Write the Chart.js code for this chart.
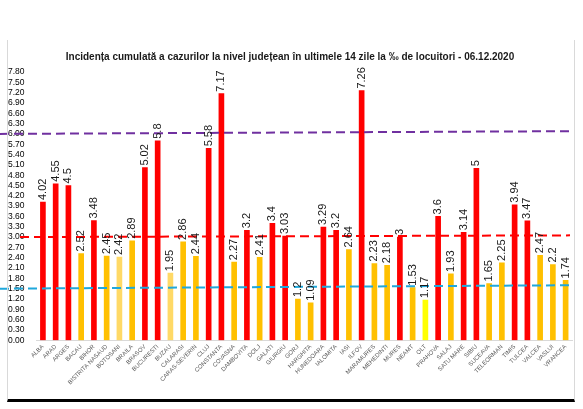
<!DOCTYPE html>
<html>
<head>
<meta charset="utf-8">
<style>
  html, body { margin: 0; padding: 0; background: #fff; }
  #wrap { position: relative; width: 583px; height: 409px; }
  #frame {
    position: absolute; left: 7px; top: 40px; width: 566px; height: 359px;
    border-left: 1px solid #d9d9d9; border-right: 1px solid #d9d9d9;
    border-bottom: 3px solid #000; pointer-events: none;
  }
  canvas { position: absolute; left: 0; top: 0; }
</style>
</head>
<body>
<div id="wrap">
  <canvas id="grafic" width="583" height="409"></canvas>
  <div id="frame"></div>
</div>
<script src="https://cdn.jsdelivr.net/npm/chart.js"></script>
<script>
// judete + incidenta (‰) la 06.12.2020
const judete = ['ALBA','ARAD','ARGES','BACAU','BIHOR','BISTRITA NASAUD','BOTOSANI','BRAILA','BRASOV','BUCURESTI',
  'BUZAU','CALARASI','CARAS-SEVERIN','CLUJ','CONSTANTA','COVASNA','DAMBOVITA','DOLJ','GALATI','GIURGIU',
  'GORJ','HARGHITA','HUNEDOARA','IALOMITA','IASI','ILFOV','MARAMURES','MEHEDINTI','MURES','NEAMT',
  'OLT','PRAHOVA','SALAJ','SATU MARE','SIBIU','SUCEAVA','TELEORMAN','TIMIS','TULCEA','VALCEA','VASLUI','VRANCEA'];
const incidenta = [4.02,4.55,4.5,2.52,3.48,2.45,2.42,2.89,5.02,5.8,
  1.95,2.86,2.44,5.58,7.17,2.27,3.2,2.41,3.4,3.03,
  1.2,1.09,3.29,3.2,2.64,7.26,2.23,2.18,3,1.53,
  1.17,3.6,1.93,3.14,5,1.65,2.25,3.94,3.47,2.47,2.2,1.74];
// nivel culoare: R rosu, O portocaliu, P galben pal, G galben
const nivel = ['R','R','R','O','R','O','P','O','R','R',
  'P','O','O','R','R','O','R','O','R','R',
  'O','O','R','R','O','R','O','O','R','O',
  'G','R','O','R','R','O','O','R','R','O','O','O'];
// praguri (liniile punctate), capat stang / capat drept
const praguri = [6.0, 3.0, 1.5];
const praguriDreapta = [6.08, 3.05, 1.6];
const yTicks = [0, 7.8, 0.3]; // min, max, pas

const culori = { R: '#ff0000', O: '#ffc000', P: '#ffd966', G: '#ffff00' };
const culoriPraguri = ['#7030a0', '#ff0000', '#1fa8dc'];
const FONT = "'Liberation Sans Narrow', 'Liberation Sans', sans-serif";

// etichete valori, rotite vertical deasupra barelor
const eticheteValori = {
  id: 'eticheteValori',
  afterDatasetsDraw(chart) {
    const ctx = chart.ctx;
    const meta = chart.getDatasetMeta(0);
    ctx.save();
    ctx.font = '11px ' + FONT;
    ctx.fillStyle = '#1a1a1a';
    ctx.textAlign = 'left';
    ctx.textBaseline = 'middle';
    meta.data.forEach((bar, i) => {
      ctx.save();
      ctx.translate(bar.x, bar.y - 2);
      ctx.rotate(-Math.PI / 2);
      ctx.fillText(String(incidenta[i]), 0, 0);
      ctx.restore();
    });
    ctx.restore();
  }
};

// liniile de prag
const liniiPrag = {
  id: 'liniiPrag',
  afterDatasetsDraw(chart) {
    const ctx = chart.ctx;
    const y = chart.scales.y;
    const xs = [[0, chart.width - 10], [20, chart.width - 13], [0, chart.width - 8]];
    ctx.save();
    ctx.lineWidth = 2;
    ctx.setLineDash([9, 5]);
    praguri.forEach((p, i) => {
      ctx.strokeStyle = culoriPraguri[i];
      ctx.beginPath();
      ctx.moveTo(xs[i][0], y.getPixelForValue(p));
      ctx.lineTo(xs[i][1], y.getPixelForValue(praguriDreapta[i]));
      ctx.stroke();
    });
    ctx.restore();
  }
};

new Chart(document.getElementById('grafic'), {
  type: 'bar',
  data: {
    labels: judete,
    datasets: [{
      data: incidenta,
      backgroundColor: nivel.map(n => culori[n]),
      barThickness: 5
    }]
  },
  options: {
    responsive: false,
    animation: false,
    devicePixelRatio: 1,
    layout: { padding: { left: 8, right: 11, top: 0, bottom: 20 } },
    plugins: {
      legend: { display: false },
      tooltip: { enabled: false },
      title: {
        display: true,
        text: 'Incidența cumulată a cazurilor la nivel județean în ultimele 14 zile la ‰ de locuitori - 06.12.2020',
        color: '#1a1a1a',
        font: { family: FONT, size: 10, weight: 'bold' },
        padding: { top: 51, bottom: 9 }
      }
    },
    scales: {
      x: {
        offset: true,
        grid: { display: false, drawTicks: false },
        border: { color: '#d9d9d9', width: 1 },
        ticks: {
          autoSkip: false,
          maxRotation: 45,
          minRotation: 45,
          padding: 3,
          color: '#595959',
          font: { family: FONT, size: 6 }
        }
      },
      y: {
        min: yTicks[0],
        max: yTicks[1],
        grid: { display: false, drawTicks: false },
        border: { display: false },
        ticks: {
          stepSize: yTicks[2],
          autoSkip: false,
          crossAlign: 'far',
          padding: 6,
          color: '#000',
          font: { family: FONT, size: 8.5 },
          callback: v => Number(v).toFixed(2)
        }
      }
    }
  },
  plugins: [liniiPrag, eticheteValori]
});
</script>
</body>
</html>
